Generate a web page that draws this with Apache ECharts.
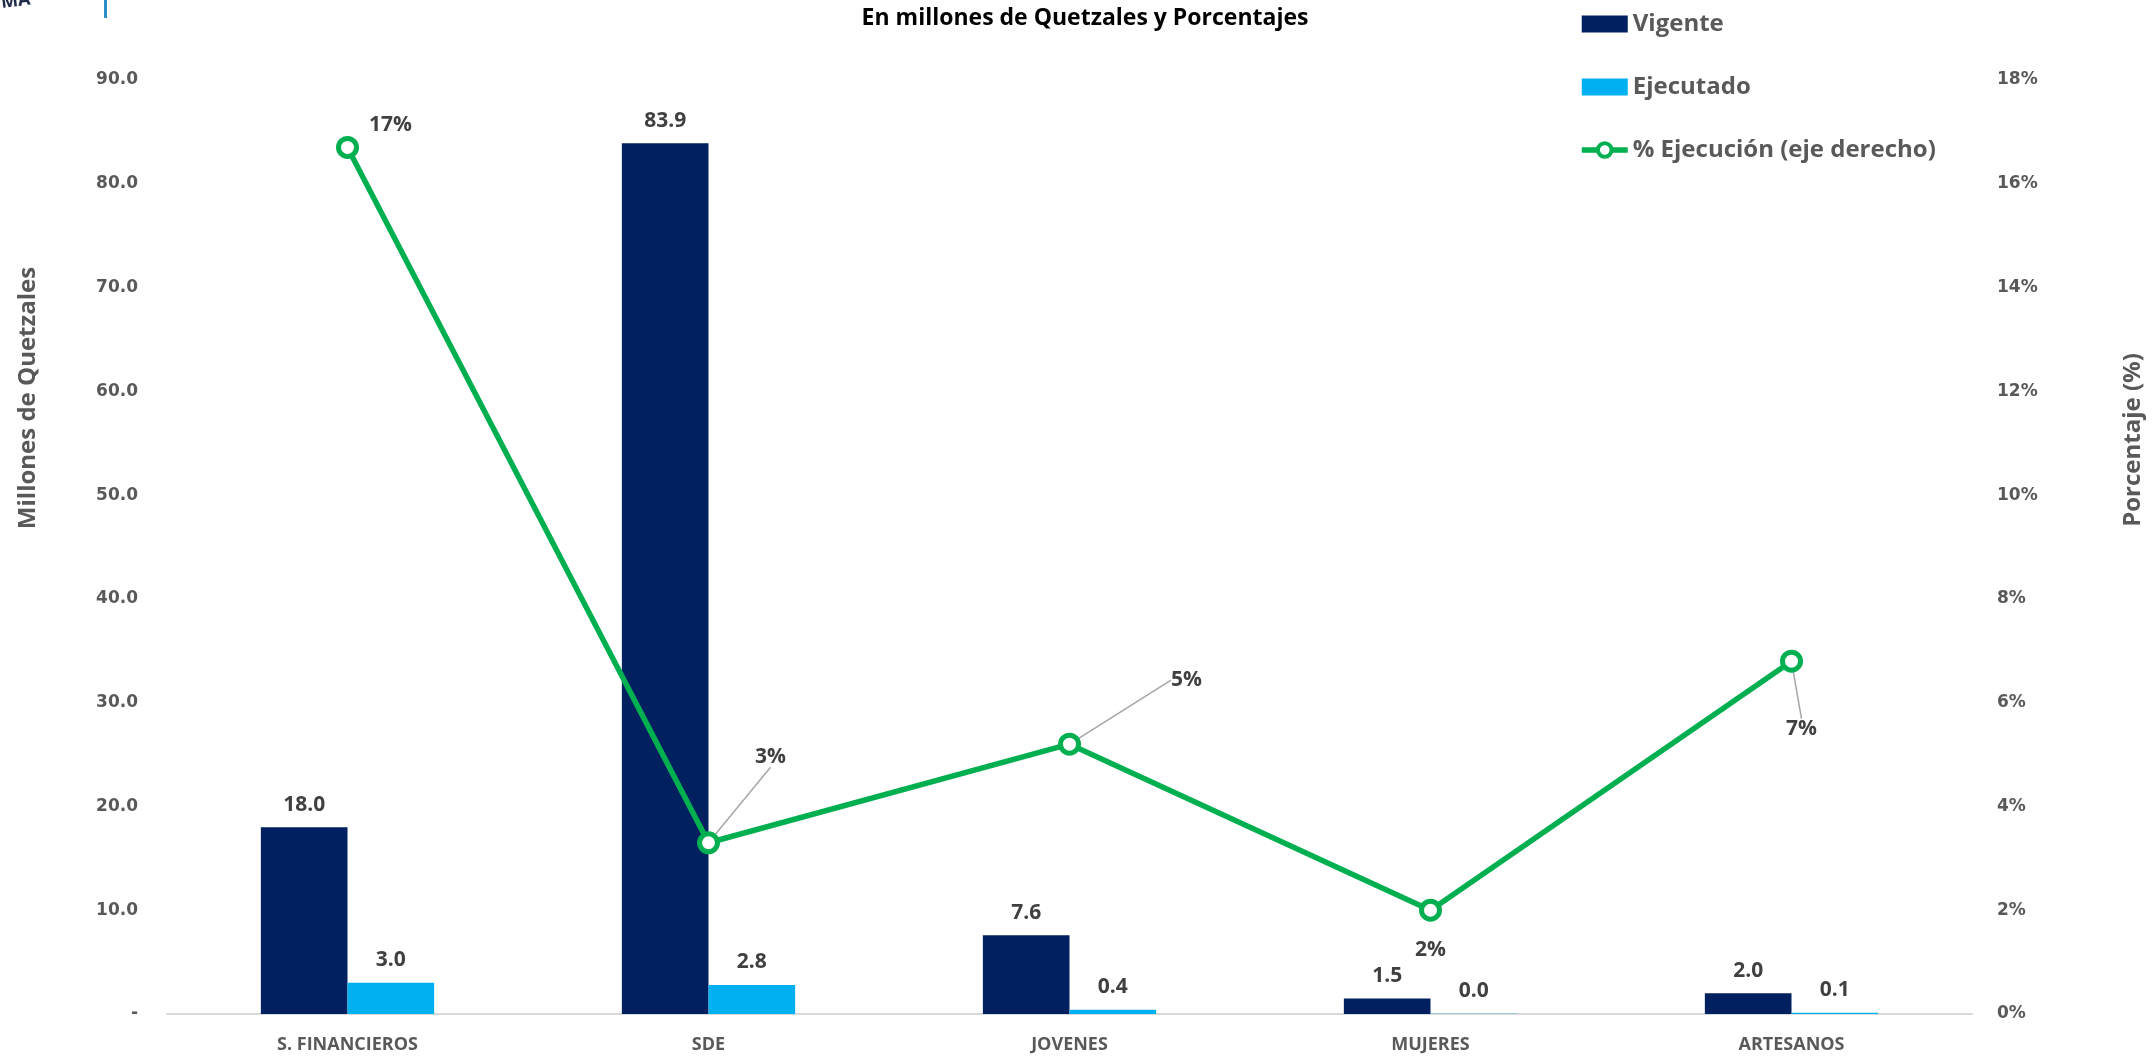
<!DOCTYPE html>
<html>
<head>
<meta charset="utf-8">
<script src="https://cdn.jsdelivr.net/npm/echarts@6/dist/echarts.min.js"></script>
<style>
html, body { margin: 0; padding: 0; background: #fff; }
#main { width: 2153px; height: 1059px; }
</style>
</head>
<body>
<div id="main"></div>
<script>
var categorias = ['S. FINANCIEROS', 'SDE', 'JOVENES', 'MUJERES', 'ARTESANOS'];
var vigente = [18.0, 83.9, 7.6, 1.5, 2.0];
var ejecutado = [3.0, 2.8, 0.4, 0.03, 0.13];
var porcentaje = [16.7, 3.3, 5.2, 2.0, 6.8];
var ticksIzq = [0, 10, 20, 30, 40, 50, 60, 70, 80, 90];
var ticksDer = [0, 2, 4, 6, 8, 10, 12, 14, 16, 18];

// desplazamiento de las etiquetas del porcentaje (y si llevan guia)
var desp = [[43, -22, false], [62, -86, true], [117, -64, true], [0, 40, false], [10, 68, true]];

var e = document.getElementById('main');
var myChart = echarts.init(e);

var labelBar = {
	show : true,
	position : 'top',
	distance : 12,
	color : '#404040',
	fontFamily : 'Open Sans',
	fontWeight : 'bold',
	fontSize : 21,
	formatter : function(p) {
		return p.value.toFixed(1);
	}
};

var tituloEje = {
	fill : '#595959',
	font : 'bold 24px "Open Sans"',
	align : 'center',
	verticalAlign : 'middle'
};

var datosLinea = porcentaje.map(function(v, i) {
	return {
		value : v,
		labelLine : { show : desp[i][2] }
	};
});

myChart.setOption({
	animation : false,
	title : {
		text : 'En millones de Quetzales y Porcentajes',
		left : 1080,
		textAlign : 'center',
		top : 2,
		textStyle : {
			color : '#000',
			fontFamily : 'Open Sans',
			fontWeight : 'bold',
			fontSize : 23
		}
	},
	legend : {
		orient : 'vertical',
		left : 1574,
		top : 7,
		itemGap : 39,
		itemWidth : 46,
		itemHeight : 17,
		textStyle : {
			color : '#595959',
			fontFamily : 'Open Sans',
			fontWeight : 'bold',
			fontSize : 24
		},
		data : [ {
			name : 'Vigente',
			icon : 'rect'
		}, {
			name : 'Ejecutado',
			icon : 'rect'
		}, {
			name : '% Ejecución (eje derecho)',
			itemStyle : { borderWidth : 4 },
			lineStyle : { width : 5.5 }
		} ]
	},
	graphic : [ {
		type : 'rect',
		shape : { x : 104, y : 0, width : 3, height : 18 },
		style : { fill : '#2a8fc7' }
	}, {
		type : 'text',
		x : 0,
		y : -6,
		rotation : 0.12,
		style : {
			text : 'MA',
			fill : '#1f2a4a',
			font : 'bold 18px "Open Sans"'
		}
	}, {
		type : 'text',
		x : 28,
		y : 398,
		rotation : Math.PI / 2,
		style : echarts.util.extend({ text : 'Millones de Quetzales' }, tituloEje)
	}, {
		type : 'text',
		x : 2133,
		y : 440,
		rotation : Math.PI / 2,
		style : echarts.util.extend({ text : 'Porcentaje (%)' }, tituloEje)
	} ],
	grid : {
		left : 167,
		right : 181,
		top : 80,
		bottom : 45
	},
	xAxis : {
		type : 'category',
		data : categorias,
		axisTick : { show : false },
		axisLine : { lineStyle : { color : '#d9d9d9', width : 2 } },
		axisLabel : {
			margin : 22,
			color : '#595959',
			fontFamily : 'Open Sans',
			fontWeight : 'bold',
			fontSize : 18
		}
	},
	yAxis : [ {
		type : 'value',
		min : ticksIzq[0],
		max : ticksIzq[ticksIzq.length - 1],
		interval : 10,
		splitLine : { show : false },
		axisLine : { show : false },
		axisTick : { show : false },
		axisLabel : {
			margin : 29,
			color : '#595959',
			fontFamily : 'DejaVu Sans',
			fontWeight : 'bold',
			fontSize : 17,
			formatter : function(v) {
				return v === 0 ? '-' : v.toFixed(1);
			}
		}
	}, {
		type : 'value',
		min : ticksDer[0],
		max : ticksDer[ticksDer.length - 1],
		interval : 2,
		splitLine : { show : false },
		axisLine : { show : false },
		axisTick : { show : false },
		axisLabel : {
			margin : 25,
			color : '#595959',
			fontFamily : 'DejaVu Sans',
			fontWeight : 'bold',
			fontSize : 17,
			formatter : '{value}%'
		}
	} ],
	series : [ {
		name : 'Vigente',
		type : 'bar',
		data : vigente,
		barGap : '0%',
		barCategoryGap : '52%',
		itemStyle : { color : '#002060' },
		label : labelBar
	}, {
		name : 'Ejecutado',
		type : 'bar',
		data : ejecutado,
		itemStyle : { color : '#00B0F0' },
		label : labelBar
	}, {
		name : '% Ejecución (eje derecho)',
		type : 'line',
		yAxisIndex : 1,
		data : datosLinea,
		symbol : 'circle',
		symbolSize : 18,
		lineStyle : { color : '#00B050', width : 5.5 },
		itemStyle : { color : '#fff', borderColor : '#00B050', borderWidth : 5 },
		label : {
			show : true,
			position : 'inside',
			color : '#404040',
			fontFamily : 'Open Sans',
			fontWeight : 'bold',
			fontSize : 21,
			formatter : function(p) {
				return Math.round(p.value) + '%';
			}
		},
		labelLine : {
			show : true,
			lineStyle : { color : '#a6a6a6', width : 1.5 }
		},
		labelLayout : function(p) {
			var d = desp[p.dataIndex];
			return { dx : d[0], dy : d[1] };
		}
	} ]
});
</script>
</body>
</html>
